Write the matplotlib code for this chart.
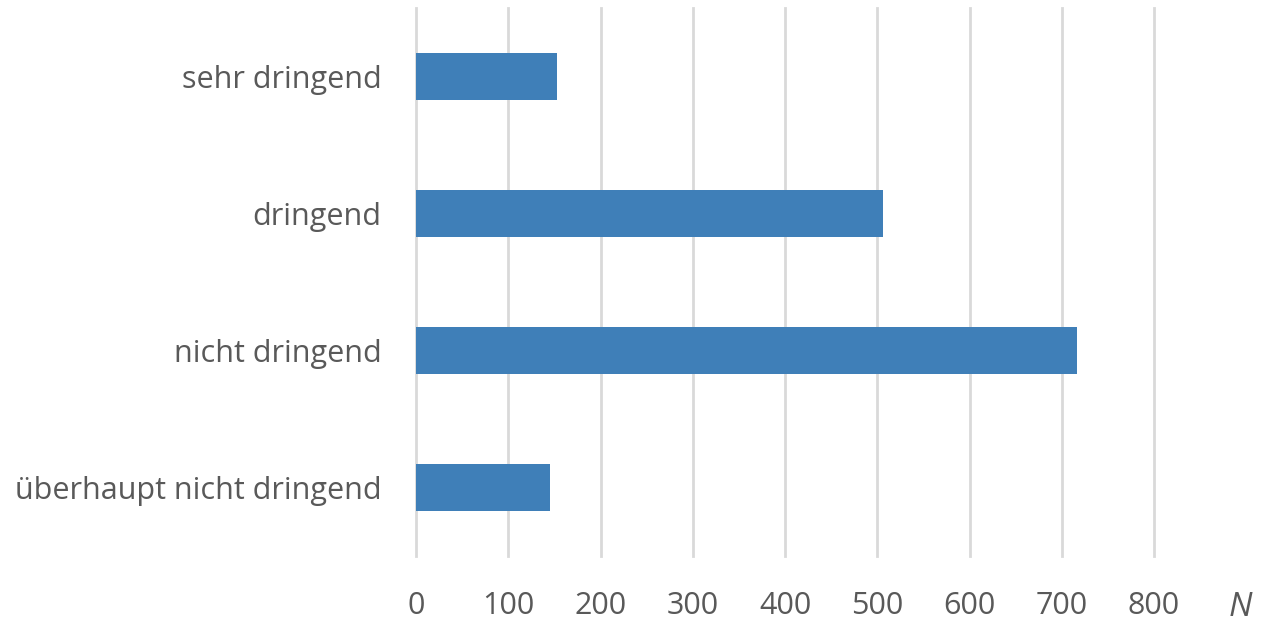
import matplotlib.pyplot as plt

categories = ["überhaupt nicht dringend", "nicht dringend", "dringend", "sehr dringend"]
values = [145, 716, 506, 153]
xticks = [0, 100, 200, 300, 400, 500, 600, 700, 800]

plt.rcParams['font.family'] = ['Open Sans', 'DejaVu Sans']
grey = '#595959'

fig = plt.figure(figsize=(12.7, 6.23), dpi=100)
ax = fig.add_axes([416/1270, 1-556/623, (1154-416)/1270, (556-8)/623])

ax.barh(range(len(categories)), values, height=0.35, color='#3f7fb8', zorder=3)
ax.set_xlim(0, 800)
ax.set_ylim(-0.5, len(categories) - 0.5)
ax.set_xticks(xticks)
ax.set_yticks(range(len(categories)))
ax.set_yticklabels(categories)
ax.xaxis.grid(True, color='#d9d9d9', linewidth=2, zorder=0)
for gl in ax.get_xgridlines():
    gl.set_clip_on(False)
for s in ax.spines.values():
    s.set_visible(False)
ax.tick_params(axis='both', length=0, labelsize=22, labelcolor=grey)
ax.tick_params(axis='x', pad=25)
ax.tick_params(axis='y', pad=25)

fig.text(1240/1270, 1-608/623, 'N', fontsize=24, style='italic', color=grey,
         ha='center', va='center')

fig.savefig('out.png', dpi=100)
